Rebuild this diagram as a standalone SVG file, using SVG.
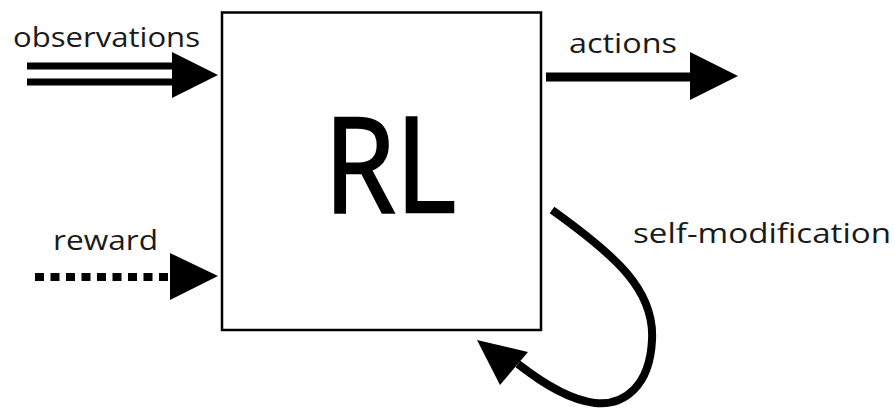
<svg xmlns="http://www.w3.org/2000/svg" width="895" height="410" viewBox="0 0 895 410">
<style>
.lbl{font-family:"Open Sans","Liberation Sans",sans-serif;font-size:28px;fill:#1a1a1a}
.ln{stroke:#000;fill:none}
.head{fill:#000}
</style>
<rect width="895" height="410" fill="#fff"/>
<g id="rl">
<rect x="222" y="12.5" width="319" height="317.5" fill="#fff" stroke="#000" stroke-width="2.5"/>
<text x="324" y="212" font-family="Open Sans,Liberation Sans,sans-serif" font-size="132" textLength="132" lengthAdjust="spacingAndGlyphs" fill="#000" stroke="#000" stroke-width="2.5">RL</text>
</g>
<g id="connectors">
<g id="observations">
<line class="ln" x1="27" y1="66" x2="176" y2="66" stroke-width="7"/>
<line class="ln" x1="27" y1="82" x2="176" y2="82" stroke-width="7"/>
<polygon class="head" points="172,52 218,75 172,98"/>
</g>
<g id="actions">
<line class="ln" x1="546" y1="77" x2="694" y2="77" stroke-width="9"/>
<polygon class="head" points="690,52 738,76 690,100"/>
</g>
<g id="reward">
<line class="ln" x1="35" y1="277" x2="172" y2="277" stroke-width="8" stroke-dasharray="9 6.5"/>
<polygon class="head" points="170,253 218,276 170,300"/>
</g>
<g id="self-mod">
<path class="ln" stroke-width="8" d="M552,210 C615,255 655,290 652,340 C650,385 625,406 595,403 C570,400 545,385 518,364"/>
<polygon class="head" points="477,340 500,385 528,352"/>
</g>
</g>
<text class="lbl" x="13" y="47" textLength="187" lengthAdjust="spacingAndGlyphs">observations</text>
<text class="lbl" x="569" y="53" textLength="108" lengthAdjust="spacingAndGlyphs">actions</text>
<text class="lbl" x="53" y="250" textLength="105" lengthAdjust="spacingAndGlyphs">reward</text>
<text class="lbl" x="633" y="243" textLength="258" lengthAdjust="spacingAndGlyphs">self-modification</text>
</svg>
